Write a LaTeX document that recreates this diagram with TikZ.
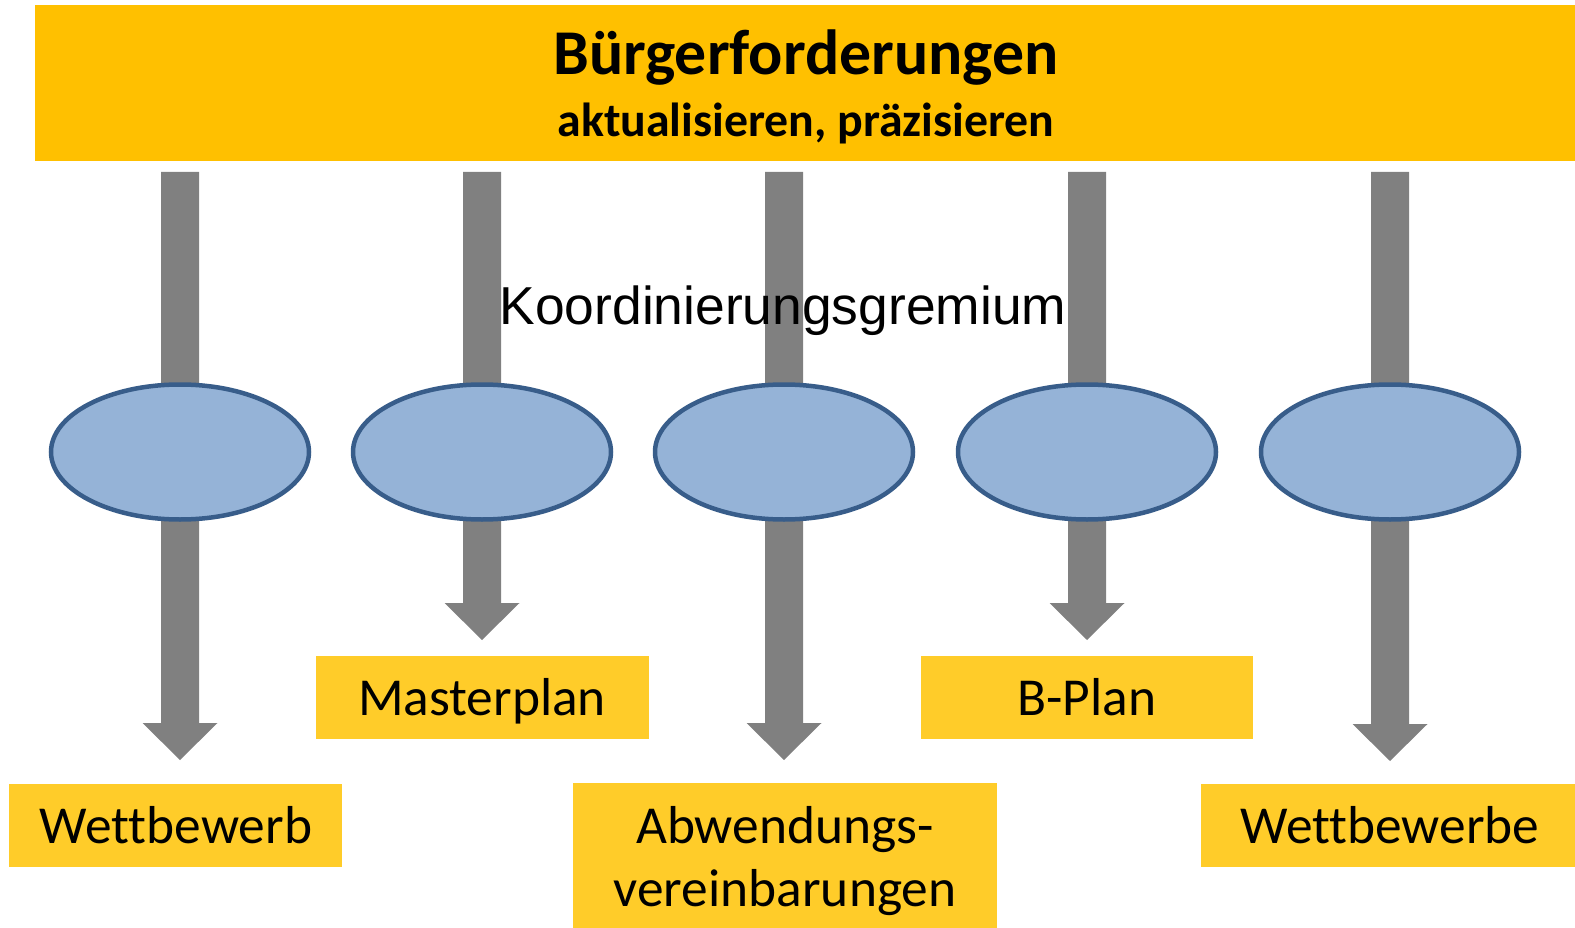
\documentclass[tikz,border=0pt]{standalone}
\usepackage{fontspec}
\setmainfont{Carlito}[Ligatures=NoCommon]
\newfontfamily\arialf{Liberation Sans}
\usetikzlibrary{calc,shapes.geometric}
\definecolor{topyellow}{HTML}{FFC000}
\definecolor{boxyellow}{HTML}{FFCC29}
\definecolor{arrowgray}{HTML}{808080}
\definecolor{ellfill}{HTML}{95B3D7}
\definecolor{elldraw}{HTML}{385D8A}
\newcommand\blockarrow[2]{\fill[arrowgray] ($(#1)+(-19,0)$) -- ($(#1)+(19,0)$) -- ($(#2)+(19,-37)$) -- ($(#2)+(37.5,-37)$) -- (#2) -- ($(#2)+(-37.5,-37)$) -- ($(#2)+(-19,-37)$) -- cycle;}
\begin{document}
\begin{tikzpicture}[x=1pt,y=-1pt,
  ell/.style={ellipse, fill=ellfill, draw=elldraw, line width=4.5pt, minimum width=258pt, minimum height=135pt, inner sep=0pt},
  outbox/.style={fill=boxyellow, inner sep=0pt, minimum height=83pt},
  lbl/.style={font=\fontsize{53.4}{60}\selectfont, anchor=base, inner sep=0pt},
  ]
\useasboundingbox (0,0) rectangle (1575,928);
% top bar
\node[fill=topyellow, inner sep=0pt, minimum width=1545pt, minimum height=156pt] (top) at (807.5,83) {};
\node[font=\bfseries\fontsize{63.8}{70}\selectfont, anchor=base, inner sep=0pt] (t1) at (806,75) {Bürgerforderungen};
\node[font=\bfseries\fontsize{47.8}{55}\selectfont, anchor=base, inner sep=0pt] (t2) at (806,137) {aktualisieren, präzisieren};
% arrow coordinates
\coordinate (s1) at (180,172);  \coordinate (e1t) at (180,760);
\coordinate (s2) at (482,172);  \coordinate (e2t) at (482,640);
\coordinate (s3) at (784,172);  \coordinate (e3t) at (784,760);
\coordinate (s4) at (1087,172); \coordinate (e4t) at (1087,640);
\coordinate (s5) at (1390,172); \coordinate (e5t) at (1390,761);
\blockarrow{s1}{e1t}
\blockarrow{s2}{e2t}
\blockarrow{s3}{e3t}
\blockarrow{s4}{e4t}
\blockarrow{s5}{e5t}
% ellipses
\node[ell] (el1) at (180,452) {};
\node[ell] (el2) at (482,452) {};
\node[ell] (el3) at (784,452) {};
\node[ell] (el4) at (1087,452) {};
\node[ell] (el5) at (1390,452) {};
% middle label
\node[font=\arialf\fontsize{53.4}{60}\selectfont, anchor=base, inner sep=0pt] (koord) at (783,324) {Koordinierungsgremium};
% output boxes
\node[outbox, minimum width=333pt] (b1) at (175.5,825.5) {};
\node[outbox, minimum width=333pt] (b2) at (482.5,697.5) {};
\node[outbox, minimum width=424pt, minimum height=162pt] (b3) at (785,864) {};
\node[outbox, minimum width=332pt] (b4) at (1087,697.5) {};
\node[outbox, minimum width=378pt] (b5) at (1390,825.5) {};
\node[lbl] (l1) at (176,843) {Wettbewerb};
\node[lbl] (l2) at (482,715) {Masterplan};
\node[lbl] (l3a) at (785,843) {Abwendungs-};
\node[lbl] (l3b) at (785,906) {vereinbarungen};
\node[lbl] (l4) at (1087,715) {B-Plan};
\node[lbl] (l5) at (1390,843) {Wettbewerbe};
\end{tikzpicture}
\end{document}
